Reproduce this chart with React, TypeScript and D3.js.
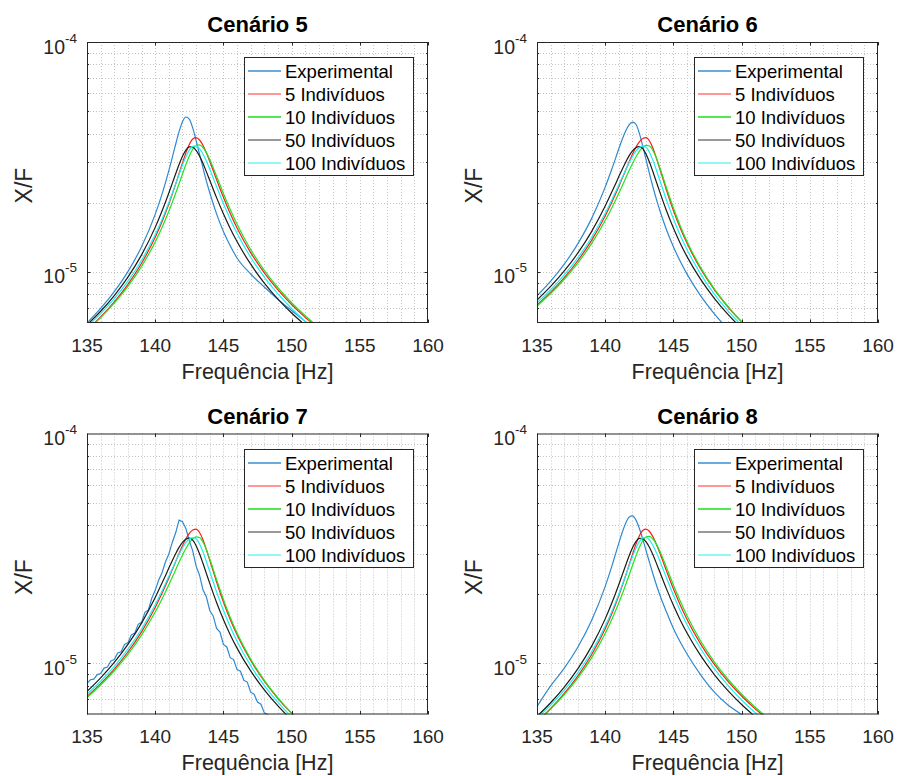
import React from 'react';
import * as d3 from 'd3';

// Frequency grid [Hz] shared by most series
const FREQ = [135, 136, 137, 138, 139, 140, 140.5, 141, 141.25, 141.5, 141.75, 142, 142.25, 142.5, 142.75, 143, 143.25, 143.5, 143.75, 144, 144.5, 145, 145.5, 146, 147, 148, 149, 150, 151, 152];

// Finer grid for the noisy measurement of scenario 7
const FREQ_FINE = [135, 135.25, 135.5, 135.75, 136, 136.25, 136.5, 136.75, 137, 137.25, 137.5, 137.75, 138, 138.25, 138.5, 138.75, 139, 139.25, 139.5, 139.75, 140, 140.25, 140.5, 140.75, 141, 141.25, 141.5, 141.75, 142, 142.25, 142.5, 142.75, 143, 143.25, 143.5, 143.75, 144, 144.25, 144.5, 144.75, 145, 145.25, 145.5, 145.75, 146, 146.25, 146.5, 146.75, 147, 147.25, 147.5, 147.75, 148, 148.25, 148.5, 148.75, 149];

// Receptance magnitudes X/F, in units of 1e-6
const EXP_5 = [6.00, 6.94, 8.21, 10.04, 12.88, 17.80, 21.79, 27.60, 31.43, 35.92, 40.74, 45.05, 47.20, 46.20, 42.30, 37.30, 32.50, 28.40, 24.90, 22.10, 17.90, 15.00, 13.00, 11.50, 9.80, 8.60, 7.60, 6.80, 6.10, 5.50];
const EXP_6 = [7.87, 9.12, 10.82, 13.28, 17.06, 23.39, 28.17, 34.33, 37.74, 41.01, 43.59, 44.85, 43.89, 40.16, 35.33, 30.69, 26.69, 23.41, 20.74, 18.55, 15.23, 12.88, 11.13, 9.79, 7.87, 6.58, 5.65, 4.95, 4.40, 3.96];
const EXP_7 = [8.20, 8.50, 8.55, 8.95, 9.05, 9.55, 9.65, 10.25, 10.40, 11.10, 11.25, 12.10, 12.30, 13.30, 13.55, 14.80, 15.10, 16.70, 17.10, 19.20, 20.80, 23.00, 24.80, 27.60, 29.90, 33.60, 37.00, 42.00, 41.30, 38.60, 34.20, 30.90, 26.50, 24.20, 20.90, 19.50, 17.00, 16.10, 14.20, 13.70, 12.10, 11.80, 10.60, 10.40, 9.40, 9.25, 8.45, 8.30, 7.50, 7.35, 6.80, 6.65, 6.10, 6.00, 5.50, 5.40, 5.00];
const EXP_8 = [6.50, 7.99, 9.54, 11.80, 15.38, 21.65, 26.65, 33.37, 37.19, 40.76, 43.25, 43.80, 42.10, 38.70, 34.80, 30.90, 27.50, 24.50, 22.00, 19.90, 16.70, 14.20, 12.40, 11.00, 8.92, 7.50, 6.60, 6.00, 5.50, 5.10];

// Identified models, scenarios 5 and 8
const IND5_A = [5.59, 6.37, 7.41, 8.83, 10.91, 14.16, 16.55, 19.75, 21.77, 24.11, 26.81, 29.81, 32.96, 35.85, 37.85, 38.37, 37.49, 35.56, 33.03, 30.31, 25.22, 21.12, 17.97, 15.54, 12.14, 9.92, 8.36, 7.22, 6.35, 5.67];
const IND10_A = [5.57, 6.33, 7.32, 8.66, 10.58, 13.51, 15.61, 18.36, 20.04, 21.99, 24.20, 26.66, 29.32, 31.94, 34.18, 35.56, 35.71, 34.78, 33.04, 30.81, 26.09, 21.96, 18.68, 16.12, 12.52, 10.17, 8.54, 7.35, 6.45, 5.74];
const IND50_A = [5.89, 6.75, 7.90, 9.50, 11.87, 15.63, 18.41, 22.06, 24.27, 26.73, 29.33, 31.84, 33.88, 35.00, 34.91, 33.79, 31.93, 29.67, 27.31, 25.03, 21.05, 17.91, 15.47, 13.56, 10.81, 8.95, 7.62, 6.63, 5.87, 5.26];
const IND100_A = [5.78, 6.59, 7.66, 9.12, 11.25, 14.54, 16.93, 20.06, 21.97, 24.15, 26.58, 29.16, 31.69, 33.85, 35.17, 35.31, 34.37, 32.61, 30.37, 27.99, 23.50, 19.83, 16.97, 14.74, 11.59, 9.50, 8.03, 6.94, 6.11, 5.46];

// Identified models, scenarios 6 and 7
const IND5_B = [7.18, 8.17, 9.46, 11.22, 13.73, 17.52, 20.18, 23.54, 25.53, 27.73, 30.09, 32.52, 34.85, 36.81, 38.07, 38.36, 37.11, 34.52, 31.32, 28.11, 22.60, 18.51, 15.53, 13.32, 10.30, 8.37, 7.04, 6.07, 5.33, 4.75];
const IND10_B = [7.11, 8.06, 9.30, 10.96, 13.29, 16.73, 19.08, 21.99, 23.70, 25.56, 27.55, 29.62, 31.64, 33.46, 34.83, 35.54, 35.32, 33.76, 31.29, 28.45, 23.13, 18.98, 15.89, 13.58, 10.45, 8.45, 7.08, 6.08, 5.33, 4.75];
const IND50_B = [7.55, 8.65, 10.10, 12.10, 14.98, 19.35, 22.36, 25.98, 27.99, 30.03, 31.97, 33.59, 34.70, 35.10, 34.40, 32.53, 29.99, 27.26, 24.65, 22.29, 18.42, 15.53, 13.34, 11.66, 9.28, 7.68, 6.54, 5.69, 5.04, 4.52];
const IND100_B = [7.35, 8.37, 9.71, 11.54, 14.13, 18.00, 20.66, 23.93, 25.80, 27.80, 29.84, 31.80, 33.51, 34.74, 35.28, 34.83, 33.09, 30.57, 27.78, 25.09, 20.49, 17.03, 14.46, 12.50, 9.79, 8.01, 6.77, 5.86, 5.16, 4.61];

const SERIES_NAMES = ['Experimental', '5 Indivíduos', '10 Indivíduos', '50 Indivíduos', '100 Indivíduos'];
const SERIES_COLORS = ['#2f89cf', '#ff1a1a', '#1ee61e', '#1a1a1a', '#1af0f0'];
const LEGEND_COLORS = ['#6aaadc', '#ff3030', '#55e655', '#333333', '#6ff5f5'];
const LEGEND_WIDTHS = [2.2, 1.2, 2.2, 1, 1.6];

const TITLES = ['Cenário 5', 'Cenário 6', 'Cenário 7', 'Cenário 8'];
const X_TICKS = [135, 140, 145, 150, 155, 160];
const X_DOMAIN = [135, 160];
const Y_DOMAIN = [6e-6, 1e-4];
const Y_TICK_EXP = [-5, -4];
const UNIT = 1e-6;

type Series = { freq: number[]; values: number[]; jagged?: boolean };

const PANELS: Series[][] = [
  [
    { freq: FREQ, values: EXP_5 },
    { freq: FREQ, values: IND5_A },
    { freq: FREQ, values: IND10_A },
    { freq: FREQ, values: IND50_A },
    { freq: FREQ, values: IND100_A },
  ],
  [
    { freq: FREQ, values: EXP_6 },
    { freq: FREQ, values: IND5_B },
    { freq: FREQ, values: IND10_B },
    { freq: FREQ, values: IND50_B },
    { freq: FREQ, values: IND100_B },
  ],
  [
    { freq: FREQ_FINE, values: EXP_7, jagged: true },
    { freq: FREQ, values: IND5_B },
    { freq: FREQ, values: IND10_B },
    { freq: FREQ, values: IND50_B },
    { freq: FREQ, values: IND100_B },
  ],
  [
    { freq: FREQ, values: EXP_8 },
    { freq: FREQ, values: IND5_A },
    { freq: FREQ, values: IND10_A },
    { freq: FREQ, values: IND50_A },
    { freq: FREQ, values: IND100_A },
  ],
];

const FONT = "'Liberation Sans', Arial, Helvetica, sans-serif";
const AXIS_COLOR = '#262626';
const GRID_COLOR = '#c4c4c4';

const COL_X = [87, 537];
const ROW_Y = [42, 433.5];
const PW = 341;
const PH = 281;

function Panel({ index }: { index: number }) {
  const x0 = COL_X[index % 2];
  const y0 = ROW_Y[Math.floor(index / 2)];
  const x1 = x0 + PW;
  const y1 = y0 + PH;
  const cx = (x0 + x1) / 2;
  const cy = (y0 + y1) / 2;

  const x = d3.scaleLinear().domain(X_DOMAIN).range([x0, x1]);
  const y = d3.scaleLog().domain(Y_DOMAIN).range([y1, y0]);

  const minorX = d3.range(X_DOMAIN[0] + 1, X_DOMAIN[1], 1);
  const yGrid = y.ticks().filter((t) => t > Y_DOMAIN[0] * 1.0001 && t < Y_DOMAIN[1] * 0.9999);

  const clipId = `clip-${index}`;
  const series = PANELS[index];

  const legendX = x1 - 15 - 169;
  const legendY = Math.round(y0 + 15);

  return (
    <g>
      <defs>
        <clipPath id={clipId}>
          <rect x={x0} y={y0} width={PW} height={PH} />
        </clipPath>
      </defs>
      <rect x={x0} y={y0} width={PW} height={PH} fill="#fff" />
      {/* dotted grid */}
      <g stroke={GRID_COLOR} strokeWidth={1} strokeDasharray="1 2" fill="none">
        {minorX.map((f) => (
          <line key={`gx${f}`} x1={Math.round(x(f)) + 0.5} x2={Math.round(x(f)) + 0.5} y1={y0} y2={y1} />
        ))}
        {yGrid.map((v) => (
          <line key={`gy${v}`} x1={x0} x2={x1} y1={Math.round(y(v)) + 0.5} y2={Math.round(y(v)) + 0.5} />
        ))}
      </g>
      {/* curves */}
      <g clipPath={`url(#${clipId})`} fill="none">
        {series.map((s, k) => {
          const pts: [number, number][] = s.freq.map((f, i) => [f, s.values[i] * UNIT]);
          const line = d3
            .line<[number, number]>()
            .x((d) => x(d[0]))
            .y((d) => y(d[1]))
            .curve(s.jagged ? d3.curveLinear : d3.curveMonotoneX);
          return <path key={k} d={line(pts) || ''} stroke={SERIES_COLORS[k]} strokeWidth={1.2} />;
        })}
      </g>
      {/* box */}
      <rect x={x0 + 0.5} y={y0 + 0.5} width={PW - 1} height={PH - 1} fill="none" stroke={AXIS_COLOR} strokeWidth={1} />
      {/* ticks */}
      <g stroke={AXIS_COLOR} strokeWidth={1}>
        {X_TICKS.map((t) => (
          <g key={`tx${t}`}>
            <line x1={Math.round(x(t)) + 0.5} x2={Math.round(x(t)) + 0.5} y1={y1} y2={y1 - 3.5} />
            <line x1={Math.round(x(t)) + 0.5} x2={Math.round(x(t)) + 0.5} y1={y0} y2={y0 + 3.5} />
          </g>
        ))}
        {yGrid.map((v) => {
          const major = Y_TICK_EXP.some((e) => Math.abs(Math.log10(v) - e) < 1e-6);
          const len = major ? 3.5 : 2;
          const yy = Math.round(y(v)) + 0.5;
          return (
            <g key={`ty${v}`}>
              <line x1={x0} x2={x0 + len} y1={yy} y2={yy} />
              <line x1={x1} x2={x1 - len} y1={yy} y2={yy} />
            </g>
          );
        })}
      </g>
      {/* x tick labels */}
      <g fontFamily={FONT} fontSize={19} fill={AXIS_COLOR} textAnchor="middle">
        {X_TICKS.map((t) => (
          <text key={`lx${t}`} x={x(t)} y={y1 + 28.5}>
            {t}
          </text>
        ))}
      </g>
      {/* y tick labels */}
      <g fontFamily={FONT} fill={AXIS_COLOR} textAnchor="end">
        {Y_TICK_EXP.map((e) => (
          <text key={`ly${e}`} x={x0 - 10} y={y(Math.pow(10, e)) + 11.5} fontSize={19.5}>
            <tspan>10</tspan>
            <tspan dy={-11} fontSize={13.5}>
              {String(e)}
            </tspan>
          </text>
        ))}
      </g>
      {/* labels */}
      <text x={cx} y={y1 + 55.5} fontFamily={FONT} fontSize={21.5} fill={AXIS_COLOR} textAnchor="middle">
        Frequência [Hz]
      </text>
      <text
        transform={`translate(${x0 - 55},${cy + 3}) rotate(-90)`}
        fontFamily={FONT}
        fontSize={23}
        fill={AXIS_COLOR}
        textAnchor="middle"
      >
        X/F
      </text>
      <text x={cx} y={y0 - 9.7} fontFamily={FONT} fontSize={22} fontWeight="bold" fill="#000" textAnchor="middle">
        {TITLES[index]}
      </text>
      {/* legend */}
      <g>
        <rect x={legendX + 0.5} y={legendY + 0.5} width={169} height={118} fill="#fff" stroke={AXIS_COLOR} strokeWidth={1} />
        {SERIES_NAMES.map((name, k) => {
          const ry = legendY + 14 + k * 23;
          return (
            <g key={name}>
              <line x1={legendX + 4} x2={legendX + 37} y1={ry} y2={ry} stroke={LEGEND_COLORS[k]} strokeWidth={LEGEND_WIDTHS[k]} />
              <text x={legendX + 41} y={ry + 6.5} fontFamily={FONT} fontSize={18.5} fill="#000">
                {name}
              </text>
            </g>
          );
        })}
      </g>
    </g>
  );
}

export default function App() {
  return (
    <svg
      width={900}
      height={776}
      viewBox="0 0 900 776"
      style={{ position: 'absolute', left: 0, top: 0, background: '#fff' }}
    >
      <rect width={900} height={776} fill="#fff" />
      {TITLES.map((_, i) => (
        <Panel key={i} index={i} />
      ))}
    </svg>
  );
}
